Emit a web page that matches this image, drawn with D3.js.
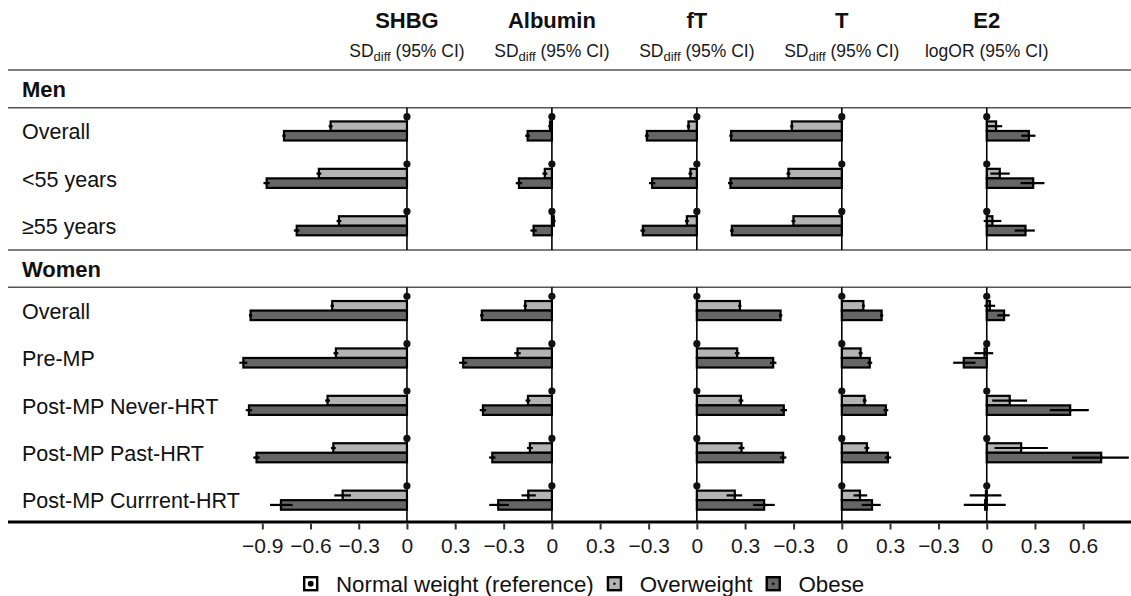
<!DOCTYPE html>
<html>
<head>
<meta charset="utf-8">
<script src="https://cdn.jsdelivr.net/npm/d3@7"></script>
<style>
  body { margin: 0; background: #fff; }
  svg { font-family: "Liberation Sans", Arial, Helvetica, sans-serif; }
</style>
</head>
<body>
<svg id="chart"></svg>
<script>
// hormones (columns) and their effect measure
var markers  = ["SHBG", "Albumin", "fT", "T", "E2"];
var measures = ["SD", "SD", "SD", "SD", "logOR"];
var groups   = ["Normal weight (reference)", "Overweight", "Obese"];

var menRows   = ["Overall", "<55 years", "≥55 years"];
var womenRows = ["Overall", "Pre-MP", "Post-MP Never-HRT", "Post-MP Past-HRT", "Post-MP Currrent-HRT"];

// [estimate, lower, upper]; rows = men (3) then women (5)
var shbgOver  = [[-0.475,-0.487,-0.463],[-0.548,-0.563,-0.533],[-0.423,-0.438,-0.408],[-0.465,-0.475,-0.455],[-0.442,-0.457,-0.427],[-0.494,-0.509,-0.479],[-0.458,-0.473,-0.443],[-0.400,-0.452,-0.348]];
var shbgObese = [[-0.765,-0.775,-0.755],[-0.873,-0.893,-0.853],[-0.686,-0.704,-0.668],[-0.973,-0.983,-0.963],[-1.018,-1.043,-0.993],[-0.983,-1.003,-0.963],[-0.936,-0.956,-0.916],[-0.784,-0.852,-0.711]];
var albOver   = [[-0.012,-0.020,-0.004],[-0.044,-0.059,-0.029],[0.012,0.002,0.022],[-0.166,-0.176,-0.156],[-0.214,-0.234,-0.194],[-0.149,-0.164,-0.134],[-0.137,-0.155,-0.119],[-0.147,-0.189,-0.100]];
var albObese  = [[-0.151,-0.166,-0.136],[-0.205,-0.225,-0.185],[-0.114,-0.134,-0.094],[-0.436,-0.446,-0.426],[-0.552,-0.577,-0.527],[-0.429,-0.449,-0.409],[-0.371,-0.391,-0.351],[-0.334,-0.390,-0.267]];
var ftOver    = [[-0.052,-0.062,-0.042],[-0.040,-0.052,-0.028],[-0.062,-0.074,-0.050],[0.268,0.260,0.276],[0.251,0.236,0.266],[0.274,0.259,0.289],[0.278,0.260,0.296],[0.236,0.185,0.282]];
var ftObese   = [[-0.311,-0.323,-0.299],[-0.278,-0.298,-0.258],[-0.336,-0.351,-0.321],[0.521,0.511,0.531],[0.475,0.455,0.495],[0.541,0.521,0.561],[0.537,0.517,0.557],[0.419,0.350,0.485]];
var tOver     = [[-0.311,-0.319,-0.303],[-0.332,-0.344,-0.320],[-0.301,-0.313,-0.289],[0.134,0.128,0.140],[0.117,0.105,0.129],[0.142,0.130,0.154],[0.156,0.141,0.171],[0.113,0.073,0.158]];
var tObese    = [[-0.689,-0.699,-0.679],[-0.693,-0.708,-0.678],[-0.684,-0.696,-0.672],[0.248,0.240,0.256],[0.174,0.159,0.189],[0.274,0.259,0.289],[0.287,0.267,0.307],[0.188,0.124,0.242]];
var e2Over    = [[0.058,0.006,0.096],[0.081,0.023,0.143],[0.035,-0.019,0.091],[0.019,-0.015,0.052],[-0.014,-0.077,0.040],[0.143,0.034,0.251],[0.214,0.048,0.380],[-0.005,-0.106,0.091]];
var e2Obese   = [[0.262,0.214,0.303],[0.289,0.210,0.359],[0.241,0.174,0.299],[0.108,0.065,0.143],[-0.143,-0.209,-0.070],[0.519,0.392,0.635],[0.712,0.531,0.884],[-0.010,-0.143,0.118]];

var overData  = [shbgOver, albOver, ftOver, tOver, e2Over];
var obeseData = [shbgObese, albObese, ftObese, tObese, e2Obese];

var domains = [[-1.07, 0.451], [-0.451, 0.451], [-0.451, 0.451], [-0.451, 0.451], [-0.451, 0.9]];
var tickVals = [[-0.9, -0.6, -0.3, 0, 0.3], [-0.3, 0, 0.3], [-0.3, 0, 0.3], [-0.3, 0, 0.3], [-0.3, 0, 0.3, 0.6]];

var width = 1131, height = 596;
var pxPerUnit = 160.7;
var plotLeft = 235;
var colors = {"Overweight": "#b3b3b3", "Obese": "#666666"};

var svg = d3.select("#chart").attr("width", width).attr("height", height);

// one x scale per panel, laid side by side
var xScales = [];
var cursor = plotLeft;
domains.forEach(function(dom) {
  var w = (dom[1] - dom[0]) * pxPerUnit;
  xScales.push(d3.scaleLinear().domain(dom).range([cursor, cursor + w]));
  cursor += w;
});

var sections = [
  {name: "Men",   rows: menRows,   head: 70,    top: 107.7, offset: 0},
  {name: "Women", rows: womenRows, head: 249.7, top: 287.3, offset: 3}
];
var rowStep = 47.4;
var bottomY = 522;

var inner = d3.scaleBand().domain(groups).range([4.2, 32.8]);

// header
markers.forEach(function(m, i) {
  var x0 = xScales[i](0);
  svg.append("text").attr("x", x0).attr("y", 28)
    .attr("text-anchor", "middle").style("font-size", "22px").style("font-weight", "bold")
    .attr("fill", "#111").text(m);
  var sub = svg.append("text").attr("x", x0).attr("y", 57)
    .attr("text-anchor", "middle").style("font-size", "17.5px").attr("fill", "#1a1a1a");
  if (measures[i] == "SD") {
    sub.append("tspan").text("SD");
    sub.append("tspan").attr("dy", 4).style("font-size", "13px").text("diff");
    sub.append("tspan").attr("dy", -4).text(" (95% CI)");
  } else {
    sub.append("tspan").text("logOR (95% CI)");
  }
});

svg.append("line").attr("x1", 8).attr("x2", width).attr("y1", 70).attr("y2", 70)
  .attr("stroke", "#555").attr("stroke-width", 1.5);

sections.forEach(function(sec) {
  var yRow = d3.scaleBand().domain(sec.rows).range([sec.top, sec.top + rowStep * sec.rows.length]);
  var yEnd = sec.name == "Men" ? sec.top + rowStep * sec.rows.length : bottomY;

  svg.append("text").attr("x", 22).attr("y", (sec.head + sec.top) / 2 + 1)
    .attr("dominant-baseline", "central").style("font-size", "22px").style("font-weight", "bold")
    .attr("fill", "#111").text(sec.name);
  svg.append("line").attr("x1", 8).attr("x2", width).attr("y1", sec.top).attr("y2", sec.top)
    .attr("stroke", "#555").attr("stroke-width", 1.5);
  if (sec.name == "Men") {
    svg.append("line").attr("x1", 8).attr("x2", width).attr("y1", yEnd).attr("y2", yEnd)
      .attr("stroke", "#555").attr("stroke-width", 1.5);
  }

  svg.selectAll(null).data(sec.rows).enter().append("text")
    .attr("x", 22).attr("y", function(d) { return yRow(d) + 24.5; })
    .attr("dominant-baseline", "central").style("font-size", "21.5px").attr("fill", "#111")
    .text(function(d) { return d; });

  markers.forEach(function(m, i) {
    var x = xScales[i];
    var g = svg.append("g");
    var recs = [];
    sec.rows.forEach(function(r, j) {
      var k = sec.offset + j;
      recs.push({row: r, group: "Overweight", v: overData[i][k]});
      recs.push({row: r, group: "Obese", v: obeseData[i][k]});
    });

    g.selectAll("rect").data(recs).enter().append("rect")
      .attr("x", function(d) { return Math.min(x(0), x(d.v[0])); })
      .attr("width", function(d) { return Math.abs(x(d.v[0]) - x(0)); })
      .attr("y", function(d) { return yRow(d.row) + inner(d.group); })
      .attr("height", inner.bandwidth())
      .attr("fill", function(d) { return colors[d.group]; })
      .attr("stroke", "#000").attr("stroke-width", 2.2);

    // zero line
    g.append("line").attr("x1", x(0)).attr("x2", x(0)).attr("y1", sec.top).attr("y2", yEnd)
      .attr("stroke", "#000").attr("stroke-width", 1.6);

    g.selectAll("line.ci").data(recs).enter().append("line").attr("class", "ci")
      .attr("x1", function(d) { return x(d.v[1]); })
      .attr("x2", function(d) { return x(d.v[2]); })
      .attr("y1", function(d) { return yRow(d.row) + inner(d.group) + inner.bandwidth() / 2; })
      .attr("y2", function(d) { return yRow(d.row) + inner(d.group) + inner.bandwidth() / 2; })
      .attr("stroke", "#000").attr("stroke-width", 2.2);

    g.selectAll("circle.pt").data(recs).enter().append("circle").attr("class", "pt")
      .attr("cx", function(d) { return x(d.v[0]); })
      .attr("cy", function(d) { return yRow(d.row) + inner(d.group) + inner.bandwidth() / 2; })
      .attr("r", 1.6).attr("fill", "#000");

    // reference group dot
    g.selectAll("circle.ref").data(sec.rows).enter().append("circle").attr("class", "ref")
      .attr("cx", x(0))
      .attr("cy", function(r) { return yRow(r) + inner(groups[0]) + inner.bandwidth() / 2; })
      .attr("r", 3.6).attr("fill", "#111");
  });
});

// bottom axis
svg.append("line").attr("x1", 8).attr("x2", width).attr("y1", bottomY).attr("y2", bottomY)
  .attr("stroke", "#000").attr("stroke-width", 3);
markers.forEach(function(m, i) {
  var ax = svg.append("g").attr("transform", "translate(0," + (bottomY + 1.5) + ")")
    .call(d3.axisBottom(xScales[i]).tickValues(tickVals[i]).tickSize(6).tickPadding(9)
      .tickFormat(function(d) { return d == 0 ? "0" : d3.format(".1f")(d); }));
  ax.select(".domain").remove();
  ax.selectAll(".tick line").attr("stroke", "#333").attr("stroke-width", 2);
  ax.selectAll(".tick text").style("font-size", "21px").attr("fill", "#1a1a1a")
    .style("font-family", "'Liberation Sans', Arial, sans-serif");
});

// legend
var leg = svg.append("g").attr("transform", "translate(303,584)");
var lx = 0;
groups.forEach(function(gname, i) {
  var item = leg.append("g").attr("transform", "translate(" + lx + ",0)");
  item.append("rect").attr("x", 1.2).attr("y", -6.8).attr("width", 13).attr("height", 13)
    .attr("fill", i == 0 ? "#fff" : colors[gname]).attr("stroke", "#000").attr("stroke-width", 2.4);
  item.append("circle").attr("cx", 7.7).attr("cy", -0.3).attr("r", i == 0 ? 2.9 : 1.2).attr("fill", "#000");
  var t = item.append("text").attr("x", 33).attr("y", 0).attr("dominant-baseline", "central")
    .style("font-size", "22.3px").attr("fill", "#111").text(gname);
  lx += 33 + t.node().getComputedTextLength() + 13;
});
</script>
</body>
</html>
